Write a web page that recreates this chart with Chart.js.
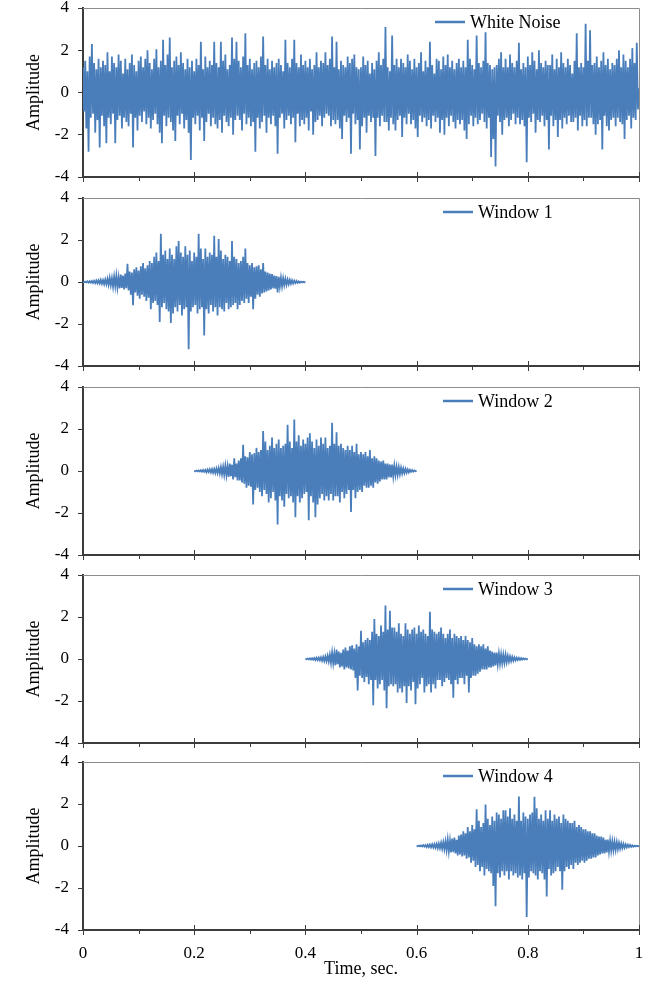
<!DOCTYPE html>
<html>
<head>
<meta charset="utf-8">
<script src="https://cdn.jsdelivr.net/npm/chart.js@4.4.1/dist/chart.umd.min.js"></script>
<style>
  html, body { margin: 0; padding: 0; background: #fff; }
  body { width: 659px; height: 982px; position: relative; overflow: hidden; }
  canvas { position: absolute; left: 0; }
</style>
</head>
<body>
<canvas id="p0"></canvas>
<canvas id="p1"></canvas>
<canvas id="p2"></canvas>
<canvas id="p3"></canvas>
<canvas id="p4"></canvas>
<script>
// sample spacing and axis ticks
const dt = 0.002
const xTicks = [0, 0.2, 0.4, 0.6, 0.8, 1]
const xMinorTicks = [0.1, 0.3, 0.5, 0.7, 0.9]
const yTicks = [-4, -2, 0, 2, 4]

const seriesNames = ['White Noise', 'Window 1', 'Window 2', 'Window 3', 'Window 4']
const seriesStart = [0, 0, 0.2, 0.4, 0.6]

// values, one every dt seconds
const whiteNoise = [
  1.2, -0.9, 1.5, -1.7, 1.0, -2.8, 1.7, -1.2, 2.3, -1.0, 1.4, -1.9, 1.1, -1.3, 1.6, -2.6, 1.2, -1.1, 1.5, -1.6,
  1.3, -2.4, 1.9, -1.2, 1.0, -1.5, 1.7, -1.0, 1.4, -2.4, 1.2, -1.3, 1.8, -1.1, 1.5, -1.7, 0.9, -1.2, 1.6, -1.4,
  1.1, -1.6, 1.4, -1.0, 1.8, -2.6, 1.3, -1.2, 1.0, -1.8, 1.5, -1.1, 1.7, -1.4, 1.2, -0.9, 1.6, -1.5, 2.0, -1.2,
  1.4, -1.7, 1.1, -1.3, 1.6, -1.0, 2.05, -1.5, 1.2, -1.9, 1.5, -2.4, 2.5, -1.1, 1.3, -1.6, 1.8, -1.2, 2.6, -1.4,
  1.2, -1.8, 1.5, -2.3, 1.7, -1.1, 1.3, -1.5, 1.9, -1.0, 1.4, -1.7, 1.1, -1.3, 1.6, -1.9, 1.2, -3.2, 1.5, -1.2,
  1.0, -1.5, 1.6, -1.1, 1.3, -1.8, 2.4, -1.2, 1.1, -2.3, 1.7, -1.4, 1.2, -1.0, 1.5, -1.6, 1.3, -1.2, 2.4, -1.5,
  1.4, -1.7, 1.2, -1.3, 2.4, -1.9, 1.5, -1.1, 1.8, -1.4, 1.1, -1.6, 1.3, -1.2, 2.6, -2.0, 1.6, -1.3, 2.4, -1.1,
  1.5, -1.3, 1.2, -1.8, 1.7, -1.0, 2.8, -1.5, 1.3, -1.2, 1.6, -1.6, 1.1, -1.4, 1.4, -2.8, 1.5, -1.2, 1.2, -1.7,
  1.7, -1.4, 2.65, -1.1, 1.3, -1.9, 1.6, -1.2, 1.1, -1.5, 1.5, -1.1, 1.2, -1.6, 1.4, -2.9, 1.6, -1.2, 1.3, -1.0,
  1.0, -1.7, 2.5, -1.3, 1.4, -1.1, 1.2, -1.5, 1.6, -1.2, 2.5, -2.35, 1.4, -1.0, 1.2, -1.6, 1.8, -1.3, 1.3, -1.5,
  1.5, -1.2, 1.2, -1.8, 1.6, -0.9, 1.1, -2.0, 1.3, -1.4, 1.9, -1.3, 1.2, -1.1, 1.5, -1.6, 1.4, -1.2, 1.9, -1.0,
  1.3, -1.1, 1.6, -1.6, 2.65, -1.3, 1.2, -1.5, 2.4, -1.3, 1.1, -1.7, 1.5, -2.2, 1.3, -1.1, 1.2, -1.4, 1.7, -1.2,
  1.4, -2.9, 1.6, -1.0, 1.8, -1.5, 1.2, -1.3, 1.1, -2.7, 1.2, -1.6, 1.7, -1.2, 1.3, -1.9, 1.5, -1.1, 0.9, -1.4,
  1.4, -1.2, 1.1, -3.0, 1.5, -1.2, 1.9, -1.6, 1.3, -1.1, 1.6, -1.4, 3.1, -1.4, 1.2, -1.8, 1.0, -1.2, 2.7, -1.5,
  1.3, -1.8, 1.6, -1.3, 1.2, -1.1, 1.6, -2.1, 1.4, -1.2, 1.2, -1.5, 1.8, -1.0, 1.5, -1.5, 1.1, -1.3, 1.6, -1.7,
  1.2, -2.1, 1.4, -1.1, 1.9, -1.4, 1.0, -1.2, 1.5, -1.6, 1.2, -1.3, 2.4, -1.7, 1.3, -1.1, 0.9, -1.4, 1.6, -1.2,
  1.5, -1.9, 1.1, -1.3, 1.7, -2.0, 1.3, -1.2, 1.8, -1.6, 1.2, -1.1, 1.5, -1.4, 1.1, -1.7, 1.4, -1.3, 1.6, -1.5,
  1.2, -1.3, 1.5, -1.8, 1.2, -2.2, 2.5, -1.5, 1.6, -1.1, 1.3, -1.6, 1.1, -1.2, 2.7, -1.5, 1.4, -1.3, 1.2, -1.0,
  1.5, -1.4, 2.85, -1.7, 1.4, -1.2, 1.3, -3.05, 1.1, -2.2, 1.2, -3.5, 1.3, -1.1, 1.6, -1.4, 1.9, -2.0, 1.2, -1.3,
  1.6, -1.2, 1.2, -1.6, 1.8, -1.3, 1.4, -1.0, 1.2, -1.5, 1.5, -1.2, 2.35, -1.5, 1.1, -1.3, 1.4, -1.6, 1.2, -3.3,
  1.7, -1.2, 1.3, -1.4, 1.9, -1.0, 1.5, -1.9, 1.1, -1.3, 2.0, -1.4, 1.4, -1.1, 1.2, -1.6, 1.5, -1.3, 1.3, -2.7,
  1.3, -1.1, 1.8, -1.6, 1.1, -1.3, 1.6, -2.1, 1.2, -1.3, 1.9, -1.7, 1.4, -1.2, 1.2, -1.5, 1.6, -1.1, 1.3, -1.4,
  0.9, -1.4, 1.5, -1.2, 2.8, -1.8, 1.2, -1.1, 1.4, -1.6, 1.2, -1.3, 3.25, -1.6, 1.5, -1.2, 2.95, -1.2, 1.3, -1.5,
  1.4, -2.0, 1.7, -1.5, 1.2, -1.3, 1.5, -2.7, 1.9, -1.1, 1.3, -1.6, 1.6, -1.8, 1.1, -1.3, 1.4, -1.2, 1.3, -1.6,
  1.6, -1.2, 2.0, -1.4, 1.2, -1.5, 1.8, -2.2, 1.5, -1.3, 1.2, -1.1, 1.6, -1.7, 2.1, -1.2, 1.4, -1.3, 2.35, -0.8,
  0.2
]

const window1 = [
  0, -0.01, 0.02, -0.02, 0.03, -0.03, 0.04, -0.03, 0.05, -0.04, 0.06, -0.05, 0.07, -0.06, 0.08, -0.07, 0.1, -0.08, 0.09, -0.1,
  0.12, -0.1, 0.15, -0.13, 0.2, -0.15, 0.18, -0.22, 0.25, -0.2, 0.3, -0.25, 0.22, -0.3, 0.35, -0.28, 0.3, -0.35, 0.4, -0.3,
  0.87, -0.4, 0.5, -0.6, 0.45, -1.1, 0.6, -0.5, 0.7, -0.65, 0.55, -0.8, 0.75, -0.6, 0.9, -0.7, 0.65, -0.9, 0.8, -0.75,
  1.0, -1.3, 0.9, -1.0, 1.2, -0.9, 1.4, -1.1, 1.0, -1.9, 2.3, -1.2, 1.3, -1.0, 1.5, -1.3, 1.1, -1.4, 1.6, -1.95,
  1.3, -1.5, 1.1, -1.2, 1.7, -1.4, 1.95, -1.1, 1.4, -1.6, 1.2, -1.3, 1.7, -1.2, 1.3, -3.2, 1.5, -1.4, 1.0, -1.2,
  1.4, -1.1, 1.2, -1.5, 2.3, -1.3, 1.6, -1.2, 1.1, -2.55, 1.6, -1.3, 1.2, -1.5, 1.4, -1.1, 1.3, -1.4, 2.2, -1.2,
  1.2, -1.6, 2.05, -1.2, 1.5, -1.3, 1.1, -1.4, 1.3, -1.0, 1.2, -1.3, 1.0, -1.2, 1.95, -1.1, 1.2, -1.0, 1.1, -1.3,
  0.9, -1.1, 1.0, -0.9, 1.2, -1.0, 1.6, -0.8, 0.9, -1.0, 0.8, -0.7, 0.9, -1.3, 0.7, -0.8, 0.75, -0.6, 0.8, -0.7,
  0.6, -0.55, 0.9, -0.5, 0.5, -0.45, 0.45, -0.4, 0.4, -0.35, 0.38, -0.3, 0.3, -0.32, 0.28, -0.5, 0.25, -0.22, 0.2, -0.2,
  0.18, -0.15, 0.15, -0.13, 0.12, -0.1, 0.1, -0.08, 0.08, -0.07, 0.06, -0.05, 0.05, -0.04, 0.03, -0.03, 0.02, -0.02, 0.01, -0.01,
  0
]

const window2 = [
  0, -0.01, 0.02, -0.02, 0.03, -0.02, 0.04, -0.03, 0.05, -0.04, 0.05, -0.06, 0.07, -0.05, 0.08, -0.07, 0.09, -0.08, 0.1, -0.09,
  0.12, -0.1, 0.14, -0.12, 0.18, -0.15, 0.2, -0.18, 0.25, -0.2, 0.22, -0.28, 0.35, -0.25, 0.3, -0.4, 0.6, -0.3, 0.35, -0.45,
  0.5, -0.45, 0.6, -0.55, 1.25, -0.6, 0.7, -0.8, 0.65, -0.7, 0.9, -0.75, 0.8, -1.6, 0.85, -0.9, 1.1, -0.8, 0.9, -1.0,
  1.0, -1.2, 1.9, -0.9, 1.4, -1.1, 1.0, -1.5, 1.2, -1.3, 1.6, -1.0, 1.1, -1.4, 1.3, -2.55, 1.5, -1.2, 1.1, -1.4,
  1.2, -1.7, 1.3, -1.1, 2.2, -1.3, 1.4, -1.2, 1.1, -1.5, 2.45, -2.2, 1.4, -1.2, 1.7, -1.5, 1.2, -1.3, 1.5, -1.1,
  1.3, -1.0, 1.6, -2.35, 1.8, -1.2, 1.4, -1.5, 1.1, -2.2, 1.5, -1.6, 1.2, -1.3, 1.6, -1.1, 1.3, -1.4, 1.6, -1.2,
  1.1, -1.4, 1.2, -1.1, 2.3, -1.4, 1.3, -1.2, 1.85, -1.2, 1.2, -1.5, 1.3, -1.0, 1.1, -1.3, 1.0, -1.1, 1.2, -0.9,
  1.0, -1.95, 1.2, -0.9, 0.9, -1.3, 1.3, -1.0, 0.8, -0.9, 0.9, -1.0, 0.8, -0.7, 0.9, -0.8, 0.7, -0.8, 1.0, -0.7,
  0.6, -0.8, 0.7, -0.55, 0.6, -0.6, 0.5, -0.5, 0.45, -0.4, 0.5, -0.4, 0.35, -0.4, 0.35, -0.3, 0.3, -0.3, 0.3, -0.25,
  0.25, -0.2, 0.2, -0.18, 0.18, -0.15, 0.15, -0.12, 0.12, -0.1, 0.1, -0.08, 0.08, -0.06, 0.06, -0.04, 0.04, -0.03, 0.03, -0.01,
  0
]

const window3 = [
  0, -0.01, 0.02, -0.02, 0.03, -0.03, 0.04, -0.03, 0.05, -0.05, 0.06, -0.05, 0.07, -0.06, 0.08, -0.08, 0.1, -0.09, 0.12, -0.1,
  0.15, -0.12, 0.2, -0.18, 0.3, -0.2, 0.25, -0.3, 0.45, -0.25, 0.35, -0.4, 0.3, -0.35, 0.45, -0.5, 0.55, -0.4, 0.4, -0.45,
  0.6, -0.5, 0.65, -0.55, 0.5, -0.9, 0.7, -1.5, 0.6, -0.8, 1.35, -0.9, 0.8, -1.1, 0.9, -0.85, 1.0, -1.2, 0.9, -1.0,
  1.3, -2.2, 1.9, -1.0, 1.2, -1.4, 1.1, -1.2, 1.6, -1.0, 1.3, -1.5, 2.55, -2.35, 1.4, -1.3, 2.3, -1.2, 1.5, -1.3,
  1.5, -1.2, 1.3, -1.6, 1.7, -1.4, 1.2, -1.6, 1.1, -1.3, 1.7, -2.1, 1.4, -1.3, 1.2, -1.5, 1.4, -1.1, 1.5, -2.15,
  1.2, -1.4, 1.6, -1.2, 1.3, -0.9, 1.4, -1.6, 1.2, -1.3, 1.1, -1.2, 2.25, -1.6, 1.4, -1.2, 1.3, -1.4, 1.2, -1.0,
  1.3, -1.0, 1.5, -1.3, 1.2, -1.1, 1.0, -0.9, 1.2, -1.0, 1.4, -1.2, 1.0, -1.85, 1.2, -1.0, 1.1, -1.2, 1.0, -0.9,
  1.1, -0.9, 0.9, -1.2, 1.1, -0.8, 0.9, -1.6, 0.8, -0.9, 1.0, -0.8, 0.7, -0.8, 0.6, -0.7, 0.7, -0.6, 0.6, -0.5,
  0.7, -0.5, 0.5, -0.5, 0.6, -0.4, 0.4, -0.4, 0.35, -0.35, 0.3, -0.3, 0.3, -0.25, 0.25, -0.22, 0.22, -0.2, 0.2, -0.18,
  0.2, -0.15, 0.15, -0.12, 0.12, -0.1, 0.1, -0.08, 0.08, -0.06, 0.06, -0.05, 0.05, -0.04, 0.04, -0.03, 0.03, -0.02, 0.02, -0.01,
  0
]

const window4 = [
  0, -0.01, 0.02, -0.02, 0.03, -0.02, 0.04, -0.03, 0.04, -0.05, 0.06, -0.05, 0.07, -0.06, 0.08, -0.07, 0.09, -0.08, 0.1, -0.1,
  0.12, -0.1, 0.15, -0.13, 0.18, -0.15, 0.22, -0.2, 0.3, -0.25, 0.25, -0.3, 0.35, -0.3, 0.4, -0.35, 0.3, -0.45, 0.5, -0.4,
  0.55, -0.5, 0.7, -0.45, 0.6, -0.6, 0.9, -0.55, 0.7, -0.8, 1.0, -0.7, 0.8, -1.0, 1.75, -0.9, 1.2, -1.2, 0.9, -1.0,
  1.1, -1.4, 1.97, -1.1, 1.3, -1.2, 1.0, -1.3, 1.4, -1.9, 1.2, -2.87, 1.6, -1.3, 1.5, -1.5, 1.3, -1.2, 1.7, -1.4,
  1.7, -1.2, 1.4, -1.6, 1.8, -1.2, 1.3, -1.4, 1.5, -1.3, 1.2, -1.5, 2.36, -1.4, 1.2, -1.6, 1.6, -1.3, 1.4, -3.38,
  1.3, -1.5, 1.5, -1.2, 1.6, -1.3, 2.35, -1.4, 1.8, -1.6, 1.3, -1.2, 1.5, -1.3, 1.2, -1.6, 1.7, -2.4, 1.3, -1.1,
  1.7, -1.4, 1.2, -1.3, 1.5, -1.2, 1.3, -1.0, 1.4, -1.2, 1.1, -2.08, 1.5, -1.2, 1.3, -1.0, 1.2, -1.1, 1.1, -0.9,
  1.1, -1.1, 1.2, -0.8, 0.9, -0.9, 1.0, -0.8, 0.9, -0.7, 0.8, -0.8, 0.8, -0.7, 0.7, -0.6, 0.7, -0.6, 0.6, -0.55,
  0.6, -0.55, 0.5, -0.45, 0.45, -0.4, 0.45, -0.35, 0.4, -0.35, 0.3, -0.3, 0.3, -0.25, 0.25, -0.22, 0.22, -0.2, 0.2, -0.18,
  0.18, -0.15, 0.15, -0.12, 0.12, -0.1, 0.1, -0.08, 0.08, -0.06, 0.06, -0.05, 0.05, -0.04, 0.03, -0.03, 0.02, -0.02, 0.01, -0.01,
  0
]

const allSeries = [whiteNoise, window1, window2, window3, window4]

// page layout (pixels)
const panelTop = [8, 198, 387, 575, 762]
const panelBottom = [177, 366, 555, 743, 930]
const pad = 12
const axisLeft = 83
const lineColor = '#4a7ebb'
const axisColor = '#3c3c3c'
const serif = '"Liberation Serif", "Times New Roman", serif'

Chart.defaults.font.family = serif
Chart.defaults.color = '#000'

// gray top/right frame plus the x tick marks (long at labelled ticks, short between)
const framePlugin = {
  id: 'frame',
  afterDraw(chart) {
    const { ctx, chartArea: a, scales: { x } } = chart
    ctx.save()
    ctx.strokeStyle = '#8c8c8c'
    ctx.lineWidth = 1
    ctx.beginPath()
    ctx.moveTo(a.left, a.top + 0.5)
    ctx.lineTo(a.right + 0.5, a.top + 0.5)
    ctx.lineTo(a.right + 0.5, a.bottom)
    ctx.stroke()

    ctx.strokeStyle = axisColor
    ctx.beginPath()
    xTicks.forEach(v => {
      const px = Math.round(x.getPixelForValue(v)) + 0.5
      ctx.moveTo(px, a.bottom - 5)
      ctx.lineTo(px, a.bottom + 5)
    })
    xMinorTicks.forEach(v => {
      const px = Math.round(x.getPixelForValue(v)) + 0.5
      ctx.moveTo(px, a.bottom)
      ctx.lineTo(px, a.bottom + 4)
    })
    ctx.stroke()
    ctx.restore()
  }
}

// legend drawn inside the plot area like the original
const legendPlugin = {
  id: 'insideLegend',
  afterDraw(chart, args, opts) {
    const { ctx, chartArea: a } = chart
    const x0 = a.left + opts.dx
    const y = a.top + opts.dy
    ctx.save()
    ctx.strokeStyle = lineColor
    ctx.lineWidth = 2.5
    ctx.beginPath()
    ctx.moveTo(x0, y)
    ctx.lineTo(x0 + 30, y)
    ctx.stroke()
    ctx.fillStyle = '#000'
    ctx.font = '18px ' + serif
    ctx.textBaseline = 'middle'
    ctx.fillText(opts.text, x0 + 35, y + 1)
    ctx.restore()
  }
}

allSeries.forEach((values, i) => {
  const isLast = i === allSeries.length - 1
  const canvas = document.getElementById('p' + i)
  const top = panelTop[i] - pad
  const xAxisHeight = isLast ? 982 - panelBottom[i] : pad
  const height = isLast ? 982 - top : panelBottom[i] - top + pad
  canvas.width = 659
  canvas.height = height
  canvas.style.top = top + 'px'

  const start = seriesStart[i]
  const points = values.map((v, j) => ({ x: +(start + j * dt).toFixed(3), y: v }))

  new Chart(canvas, {
    type: 'line',
    data: {
      datasets: [{
        label: seriesNames[i],
        data: points,
        borderColor: lineColor,
        borderWidth: 1.8,
        pointRadius: 0,
        tension: 0,
        fill: false
      }]
    },
    options: {
      responsive: false,
      animation: false,
      devicePixelRatio: 1,
      layout: { padding: { top: pad, right: 20, left: 0, bottom: 0 } },
      plugins: {
        legend: { display: false },
        tooltip: { enabled: false },
        insideLegend: { text: seriesNames[i], dx: i === 0 ? 352 : 360, dy: 14 }
      },
      scales: {
        x: {
          type: 'linear',
          min: 0,
          max: 1,
          afterBuildTicks: s => { s.ticks = xTicks.map(v => ({ value: v })) },
          afterFit: s => { s.height = xAxisHeight },
          grid: { display: false, drawTicks: false },
          border: { display: true, color: axisColor, width: 2 },
          ticks: {
            display: isLast,
            padding: 13,
            font: { size: 17 },
            color: '#000',
            maxRotation: 0,
            callback: v => String(v)
          },
          title: {
            display: isLast,
            text: 'Time, sec.',
            font: { size: 18 },
            color: '#000',
            padding: { top: 0, bottom: 2 }
          }
        },
        y: {
          min: -4,
          max: 4,
          afterBuildTicks: s => { s.ticks = yTicks.map(v => ({ value: v })) },
          // fixed axis width; keep the label padding from pushing the plot area in
          afterFit: s => { s.width = axisLeft; s.paddingTop = 10; s.paddingBottom = 10 },
          grid: { display: true, drawOnChartArea: false, drawTicks: true, tickLength: 5, color: axisColor },
          border: { display: true, color: axisColor, width: 2 },
          ticks: { padding: 9, font: { size: 17 }, color: '#000', callback: v => String(v) },
          title: {
            display: true,
            text: 'Amplitude',
            font: { size: 18 },
            color: '#000',
            padding: { top: 23, bottom: 0 }
          }
        }
      }
    },
    plugins: [framePlugin, legendPlugin]
  })
})
</script>
</body>
</html>
